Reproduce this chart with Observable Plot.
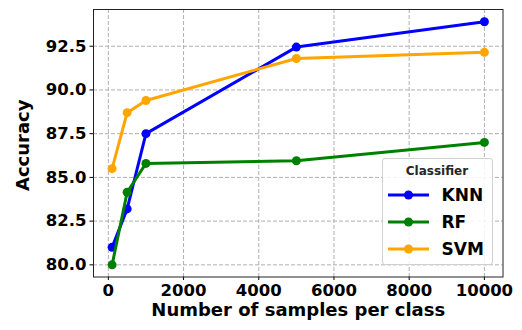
<!DOCTYPE html>
<html>
<head>
<meta charset="utf-8">
<script src="https://cdn.jsdelivr.net/npm/d3@7"></script>
<script src="https://cdn.jsdelivr.net/npm/@observablehq/plot@0.6"></script>
<style>
  html, body { margin: 0; padding: 0; background: #fff; }
  #wrap { position: relative; width: 522px; height: 330px; font-family: "DejaVu Sans", sans-serif; }
  #legend { position: absolute; left: 381.5px; top: 157.5px; width: 111px; height: 107px;
    border: 1px solid #d0d0d0; border-radius: 3px; background: rgba(255,255,255,0.85); box-sizing: border-box; }
  #legend .title { position: absolute; left: 0; width: 100%; top: 5px; text-align: center;
    font-weight: bold; font-size: 12px; color: #262626; }
  #legend .entry { position: absolute; left: 0; width: 100%; height: 24px; }
  #legend .entry svg { position: absolute; left: 4px; top: 0; }
  #legend .entry span { position: absolute; left: 59px; top: 1px; font-weight: bold; font-size: 17px; color: #000; line-height: 22px; }
</style>
</head>
<body>
<div id="wrap"></div>
<script>
const xValues = [100, 500, 1000, 5000, 10000];
const knnAcc = [81.0, 83.2, 87.5, 92.45, 93.9];
const rfAcc = [80.0, 84.15, 85.8, 85.95, 87.0];
const svmAcc = [85.5, 88.7, 89.4, 91.8, 92.15];
const seriesNames = ["KNN", "RF", "SVM"];
const seriesColors = ["blue", "green", "orange"];
const xTicks = [0, 2000, 4000, 6000, 8000, 10000];
const yTicks = [80.0, 82.5, 85.0, 87.5, 90.0, 92.5];
const xLabel = "Number of samples per class";
const yLabel = "Accuracy";
const legendTitle = "Classifier";

const seriesValues = [knnAcc, rfAcc, svmAcc];
const rows = [];
seriesNames.forEach((name, i) => {
  xValues.forEach((x, j) => rows.push({series: name, x, y: seriesValues[i][j]}));
});

const lineMarks = seriesNames.flatMap((name, i) => {
  const d = rows.filter(r => r.series === name);
  return [
    Plot.line(d, {x: "x", y: "y", stroke: seriesColors[i], strokeWidth: 3}),
    Plot.dot(d, {x: "x", y: "y", fill: seriesColors[i], r: 4.5, stroke: "none"})
  ];
});

const chart = Plot.plot({
  width: 522,
  height: 330,
  marginLeft: 93,
  marginTop: 9,
  marginRight: 19.5,
  marginBottom: 53.5,
  style: {fontFamily: "DejaVu Sans", fontWeight: "bold", fontSize: "16.5px", color: "#000", background: "#fff"},
  x: {domain: [-395, 10495]},
  y: {domain: [79.305, 94.6]},
  marks: [
    Plot.gridX(xTicks, {stroke: "#b0b0b0", strokeOpacity: 1, strokeDasharray: "4,2", strokeWidth: 1}),
    Plot.gridY(yTicks, {stroke: "#b0b0b0", strokeOpacity: 1, strokeDasharray: "4,2", strokeWidth: 1}),
    Plot.axisX(xTicks, {tickSize: 3.5, tickPadding: 4, tickFormat: d => String(d), label: null, fontSize: 16.5, fontWeight: "bold"}),
    Plot.axisY(yTicks, {tickSize: 3.5, tickPadding: 3.5, tickFormat: d => d.toFixed(1), label: null, fontSize: 16.5, fontWeight: "bold"}),
    Plot.text([xLabel], {frameAnchor: "bottom", dy: 39, fontSize: 18, fontWeight: "bold", fill: "#000"}),
    Plot.text([yLabel], {frameAnchor: "left", textAnchor: "middle", lineAnchor: "middle", dx: -70.5, dy: 2, rotate: -90, fontSize: 18, fontWeight: "bold", fill: "#000"}),
    ...lineMarks,
    Plot.frame({stroke: "#222", strokeWidth: 1})
  ]
});

const wrap = document.getElementById("wrap");
wrap.appendChild(chart);

const legend = document.createElement("div");
legend.id = "legend";
const t = document.createElement("div");
t.className = "title";
t.textContent = legendTitle;
legend.appendChild(t);
seriesNames.forEach((name, i) => {
  const e = document.createElement("div");
  e.className = "entry";
  e.style.top = (24.5 + i * 27) + "px";
  e.innerHTML = `<svg width="44" height="24"><line x1="1" x2="42" y1="12" y2="12" stroke="${seriesColors[i]}" stroke-width="3"/><circle cx="21.5" cy="12" r="4.5" fill="${seriesColors[i]}"/></svg><span>${name}</span>`;
  legend.appendChild(e);
});
wrap.appendChild(legend);
</script>
</body>
</html>
